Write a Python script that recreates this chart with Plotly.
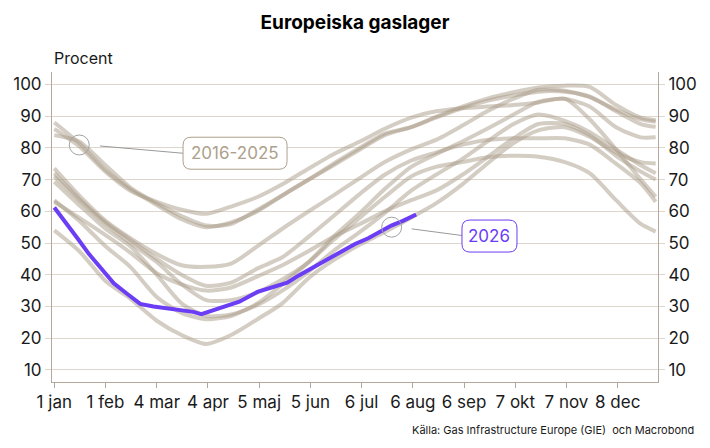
import plotly.graph_objects as go

# Dagar från 1 jan (icke-skottår) där de historiska kurvorna är avlästa
dagar = [0, 15, 31, 46, 62, 77, 92, 107, 123, 138, 154, 169, 185, 200,
         216, 231, 247, 262, 278, 293, 309, 324, 340, 355, 364]

# Fyllnadsgrad i procent, 2016-2025
ar_2016 = [63, 58, 52.5, 47, 40.5, 37, 35, 36, 39.5, 43, 47.5, 52, 56, 60,
           63.5, 66.5, 71.5, 77, 83, 87.5, 87.5, 84, 77.5, 72.5, 70]
ar_2017 = [69.3, 62, 54.5, 49, 40, 31, 27, 27.5, 30.5, 35, 41, 47.5, 53.5, 59.5,
           66.5, 71.5, 76.5, 82, 87.5, 90.5, 88.5, 85, 79.5, 74.5, 72]
ar_2018 = [54, 47.5, 38, 32.5, 25.5, 21, 18.2, 21, 26, 31, 39, 44.6, 49.5, 53.5,
           58, 62.5, 68.5, 75, 81.5, 85.5, 86.5, 83.5, 78.5, 75.5, 75.1]
ar_2019 = [73.5, 65, 57, 51.5, 46.5, 43, 42.5, 43.5, 49, 54.5, 60, 65, 70.5, 75.5,
           79.5, 82.5, 87, 91.5, 95.5, 98.3, 98, 96, 92, 89, 88.2]
ar_2020 = [88, 81.5, 73, 67, 62, 57.5, 55, 56.5, 60, 65, 70, 74.5, 79.5, 84,
           86.5, 89.5, 92.5, 94.8, 96.5, 97.7, 97.7, 96.2, 91.5, 87.5, 86.6]
ar_2021 = [71, 63.5, 56, 50, 44, 37, 32, 32, 34.5, 38.5, 44, 51, 58, 64.5,
           71, 74, 75.5, 77, 77.5, 77.2, 75.5, 72, 63.5, 56, 53.6]
ar_2022 = [63.5, 57, 49, 42.5, 33, 28, 26, 27, 31, 37, 44, 52, 59.5, 67,
           74, 78, 82, 86, 90.5, 94.5, 95.4, 93, 86.5, 83.3, 83.3]
ar_2023 = [84, 82, 74.5, 67.5, 62.5, 58.5, 55.5, 56, 60.5, 65, 70, 75, 80, 84.5,
           86.5, 89.8, 93, 95.5, 97.5, 99, 99.6, 99.2, 93.5, 89.5, 88.7]
ar_2024 = [86, 80.5, 72.5, 66.5, 63, 60.5, 59.2, 61.5, 64.5, 68.5, 73.5, 78, 82, 86,
           89.5, 91.5, 92.5, 93, 93.5, 94.3, 95.5, 89, 79.5, 70, 64.6]
ar_2025 = [72, 64, 56.5, 51, 45, 40, 36.5, 37.5, 42, 45.5, 52, 58.5, 65.5, 71.5,
           76, 78.5, 81, 82.5, 83, 83, 83, 81, 75, 68.8, 63]

historik = [ar_2016, ar_2017, ar_2018, ar_2019, ar_2020,
            ar_2021, ar_2022, ar_2023, ar_2024, ar_2025]

# Innevarande år
dagar_2026 = [0, 7, 14, 21, 28, 36, 44, 52, 60, 68, 76, 84, 89, 96, 104, 112,
              123, 132, 141, 148, 155, 162, 169, 176, 182, 190, 197, 204, 211, 219]
ar_2026 = [61.2, 56.5, 51.5, 46.5, 42, 37.3, 34, 30.8, 30, 29.4, 29, 28.3, 27.6,
           28.8, 30, 31.5, 34.6, 36, 37.5, 39.8, 41.8, 44, 46, 48, 49.7, 51.5,
           53.5, 55.5, 57, 59]

tick_dagar = [0, 31, 62, 93, 124, 155, 186, 217, 248, 279, 310, 341]
tick_text = ["1 jan", "1 feb", "4 mar", "4 apr", "5 maj", "5 jun",
             "6 jul", "6 aug", "6 sep", "7 okt", "7 nov", "8 dec"]
y_ticks = [10, 20, 30, 40, 50, 60, 70, 80, 90, 100]

GRA = "rgba(170,155,135,0.5)"
LILA = "#6b3df5"
AXEL = "#b3a899"
RUTNAT = "#ddd6cc"
TEXT = "#1a1a1a"
FONT = "Inter"

fig = go.Figure()

for serie in historik:
    fig.add_trace(go.Scatter(
        x=dagar, y=serie, mode="lines",
        line=dict(color=GRA, width=4, shape="spline", smoothing=0.7),
        hoverinfo="skip", showlegend=False))

fig.add_trace(go.Scatter(
    x=dagar_2026, y=ar_2026, mode="lines",
    line=dict(color=LILA, width=4),
    hoverinfo="skip", showlegend=False))

# osynlig trace så att högeraxeln ritas
fig.add_trace(go.Scatter(
    x=dagar_2026[:1], y=ar_2026[:1], yaxis="y2", mode="markers",
    marker=dict(opacity=0), hoverinfo="skip", showlegend=False))


def rundad_ruta(w, h, r):
    a, b = w / 2, h / 2
    return (f"M {-a + r},{-b} L {a - r},{-b} Q {a},{-b} {a},{-b + r} "
            f"L {a},{b - r} Q {a},{b} {a - r},{b} L {-a + r},{b} "
            f"Q {-a},{b} {-a},{b - r} L {-a},{-b + r} Q {-a},{-b} {-a + r},{-b} Z")


# etiketter: (cirkelns dag, värde, etikettens dag, värde, text, färg, bredd, linje)
etiketter = [
    (15.1, 80.9, 109.4, 78.3, "2016-2025", "#ada08c", 104, (20.7, -1, 104, -8.3)),
    (204.2, 55.0, 263.4, 52.2, "2026", LILA, 55, (20, -1.7, 70.6, -8.4)),
]

shapes = []
annotations = []
for cx, cy, lx, ly, txt, farg, bredd, (x0, y0, x1, y1) in etiketter:
    shapes.append(dict(type="circle", xref="x", yref="y", xsizemode="pixel",
                       ysizemode="pixel", xanchor=cx, yanchor=cy,
                       x0=-10, x1=10, y0=-10, y1=10,
                       line=dict(color="#a3a3a3", width=1)))
    shapes.append(dict(type="line", xref="x", yref="y", xsizemode="pixel",
                       ysizemode="pixel", xanchor=cx, yanchor=cy,
                       x0=x0, y0=y0, x1=x1, y1=y1,
                       line=dict(color="#9a9a9a", width=1)))
    shapes.append(dict(type="path", xref="x", yref="y", xsizemode="pixel",
                       ysizemode="pixel", xanchor=lx, yanchor=ly,
                       path=rundad_ruta(bredd, 32, 8), fillcolor="white",
                       line=dict(color=farg, width=1)))
    annotations.append(dict(x=lx, y=ly, xref="x", yref="y", text=txt,
                            showarrow=False, font=dict(size=17, color=farg)))

annotations.append(dict(x=0, y=1, xref="paper", yref="paper", text="Procent",
                        showarrow=False, xanchor="left", yanchor="middle",
                        yshift=14, font=dict(size=16, color=TEXT)))
annotations.append(dict(x=1, y=0, xref="paper", yref="paper",
                        text="Källa: Gas Infrastructure Europe (GIE)  och Macrobond",
                        showarrow=False, xanchor="right", yanchor="middle",
                        xshift=38, yshift=-48, font=dict(size=11, color=TEXT)))

y_axel = dict(range=[6.2, 103.9], tickvals=y_ticks, ticks="outside", ticklen=6,
              tickcolor=RUTNAT, showline=True, linecolor=AXEL, linewidth=1,
              zeroline=False, tickfont=dict(size=17, color=TEXT), fixedrange=True)

fig.update_layout(
    width=710, height=448,
    margin=dict(l=52, r=52, t=72, b=66),
    paper_bgcolor="white", plot_bgcolor="white",
    font=dict(family=FONT, color=TEXT),
    title=dict(text="<b>Europeiska gaslager</b>", x=0.5, xanchor="center",
               y=0.951, yanchor="middle", font=dict(size=19, color="#000")),
    xaxis=dict(range=[-1.4, 365.4], tickvals=tick_dagar, ticktext=tick_text,
               ticks="outside", ticklen=5, tickcolor=AXEL, showline=True,
               linecolor=AXEL, linewidth=1, showgrid=False, zeroline=False,
               tickfont=dict(size=17, color=TEXT), fixedrange=True),
    yaxis=dict(**y_axel, showgrid=True, gridcolor=RUTNAT, gridwidth=1),
    yaxis2=dict(**y_axel, overlaying="y", side="right", anchor="x",
                showgrid=False),
    shapes=shapes,
    annotations=annotations,
)

fig.write_html("out.html", config={"displayModeBar": False},
               post_script="document.body.style.margin='0';")
